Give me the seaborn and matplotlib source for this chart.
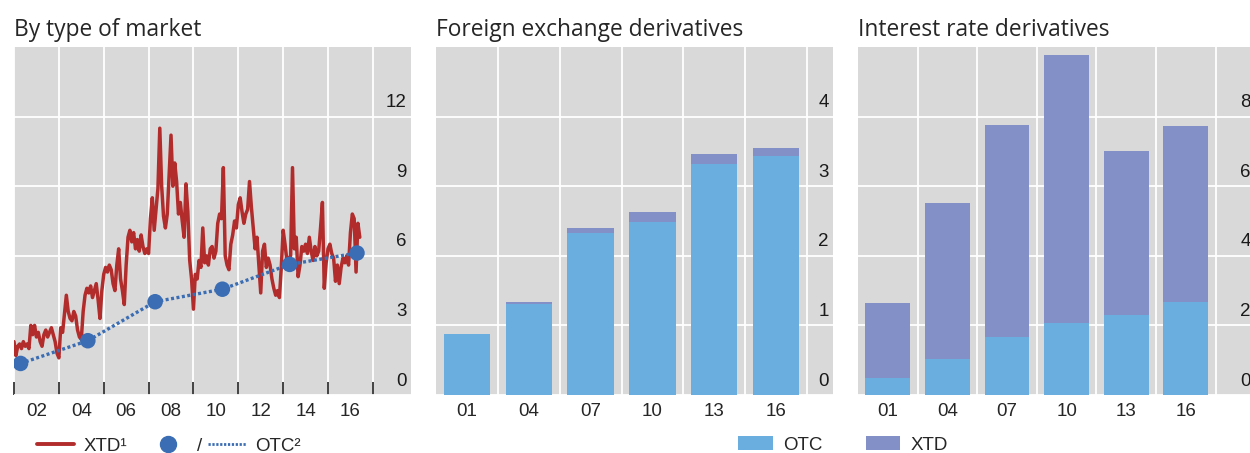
import numpy as np
import pandas as pd
import matplotlib
matplotlib.use("Agg")
import matplotlib.pyplot as plt
import seaborn as sns
from matplotlib.lines import Line2D
from matplotlib.patches import Patch

# ---------------- data ----------------
# Exchange-traded (XTD) turnover, monthly, Jan 2001 - Jun 2016 (USD trn per day)
xtd_2001 = [2.3, 1.7, 2.1, 2.2, 2.0, 2.3, 2.1, 2.2, 2.0, 3.0, 2.6, 3.0]
xtd_2002 = [2.5, 2.7, 2.3, 2.1, 2.6, 2.8, 2.5, 2.7, 2.9, 2.6, 2.3, 1.8]
xtd_2003 = [1.6, 2.9, 2.7, 3.5, 4.3, 3.6, 3.3, 3.2, 3.6, 3.4, 2.8, 2.5]
xtd_2004 = [2.4, 3.6, 4.3, 4.6, 4.4, 4.7, 4.2, 4.5, 4.8, 4.1, 3.3, 4.5]
xtd_2005 = [5.2, 5.5, 5.3, 5.6, 5.4, 4.8, 4.5, 5.6, 6.3, 5.0, 4.5, 3.9]
xtd_2006 = [5.6, 6.8, 7.1, 6.6, 7.0, 6.3, 6.7, 6.2, 6.9, 6.4, 6.1, 6.3]
xtd_2007 = [6.1, 7.6, 8.5, 7.1, 8.0, 8.9, 11.5, 9.0, 7.7, 7.2, 7.8, 9.5]
xtd_2008 = [11.2, 9.0, 10.0, 9.2, 7.8, 8.3, 7.5, 6.8, 9.1, 7.9, 5.8, 5.0]
xtd_2009 = [3.7, 5.2, 5.0, 5.8, 5.5, 7.2, 5.7, 6.0, 5.6, 6.3, 6.4, 5.9]
xtd_2010 = [6.2, 7.4, 7.8, 7.6, 9.8, 6.0, 5.6, 5.4, 6.5, 6.9, 7.5, 7.2]
xtd_2011 = [8.2, 8.5, 7.9, 7.4, 7.8, 8.0, 9.2, 8.1, 7.2, 6.3, 6.8, 5.6]
xtd_2012 = [4.4, 6.2, 6.5, 5.5, 5.9, 5.6, 5.0, 4.6, 4.3, 4.5, 4.2, 5.5]
xtd_2013 = [7.1, 6.5, 5.8, 5.9, 6.0, 9.8, 6.3, 6.8, 5.1, 5.6, 6.4, 6.2]
xtd_2014 = [6.5, 6.1, 6.8, 6.2, 5.8, 6.4, 6.0, 6.2, 7.2, 8.3, 4.6, 5.7]
xtd_2015 = [6.3, 6.5, 6.1, 5.9, 4.9, 5.6, 4.8, 5.5, 5.9, 5.7, 6.0, 5.6]
xtd_2016 = [7.0, 7.8, 7.6, 5.3, 7.4, 6.8]
xtd_monthly = (xtd_2001 + xtd_2002 + xtd_2003 + xtd_2004 + xtd_2005 + xtd_2006
               + xtd_2007 + xtd_2008 + xtd_2009 + xtd_2010 + xtd_2011 + xtd_2012
               + xtd_2013 + xtd_2014 + xtd_2015 + xtd_2016)
start_year = 2001

# Triennial survey (April) - OTC turnover
survey_years = [2001, 2004, 2007, 2010, 2013, 2016]
survey_month = 4
survey_labels = ["01", "04", "07", "10", "13", "16"]
otc_total = [1.36, 2.34, 4.02, 4.56, 5.63, 6.12]

fx_otc = [0.87, 1.31, 2.33, 2.49, 3.32, 3.44]
fx_xtd = [0.005, 0.02, 0.07, 0.14, 0.14, 0.11]
ir_otc = [0.49, 1.03, 1.68, 2.06, 2.31, 2.66]
ir_xtd = [2.15, 4.50, 6.08, 7.70, 4.70, 5.08]

left_xlabels = ["02", "04", "06", "08", "10", "12", "14", "16"]
left_yticks = [0, 3, 6, 9, 12]
fx_yticks = [0, 1, 2, 3, 4]
ir_yticks = [0, 2, 4, 6, 8]

# ---------------- style ----------------
RED = "#b22c2c"
BLUE = "#3a6db3"
OTC_C = "#6aaee0"
XTD_C = "#8290c7"
BG = "#d9d9d9"

sns.set_style("darkgrid", {"axes.facecolor": BG, "grid.color": "white",
                           "axes.edgecolor": BG})
plt.rcParams["font.family"] = ["Liberation Sans", "DejaVu Sans"]
plt.rcParams["grid.linewidth"] = 1.3
TITLE_FONT = ["Open Sans", "DejaVu Sans"]
FS = 13.5
TFS = 16.4

fig = plt.figure(figsize=(12.5, 4.53), dpi=100)
W, H = 1250, 453


def px_axes(x0, x1, y0, y1):
    return fig.add_axes([x0 / W, 1 - y1 / H, (x1 - x0) / W, (y1 - y0) / H])


ax1 = px_axes(14, 411, 47, 395)
ax2 = px_axes(436, 833, 47, 395)
ax3 = px_axes(858, 1255, 47, 395)


def right_inside_labels(ax, ticks):
    ax.set_yticks(ticks)
    ax.set_yticklabels([])
    ax.tick_params(axis="y", length=0)
    for v in ticks:
        ax.annotate(str(v), xy=(1, v), xycoords=("axes fraction", "data"),
                    xytext=(-3, 10), textcoords="offset points",
                    ha="right", va="center", fontsize=FS, color="#1a1a1a",
                    annotation_clip=False)


# ---------------- panel 1 ----------------
df_line = pd.DataFrame({
    "x": [start_year + i / 12 for i in range(len(xtd_monthly))],
    "v": xtd_monthly,
})
df_otc = pd.DataFrame({
    "x": [y + (survey_month - 0.5) / 12 for y in survey_years],
    "v": otc_total,
})
sns.lineplot(data=df_line, x="x", y="v", ax=ax1, color=RED, lw=2.5)
sns.lineplot(data=df_otc, x="x", y="v", ax=ax1, color=BLUE, lw=2.4,
             linestyle=(0, (0.9, 0.75)))
sns.scatterplot(data=df_otc, x="x", y="v", ax=ax1, color=BLUE, s=125,
                edgecolor="none", zorder=5)
ax1.set_xlim(2001, 2018.7)
ax1.set_ylim(0, 15)
ax1.set_xticks(list(range(2001, 2018, 2)))
ax1.set_xticklabels([])
ax1.set_xticks(list(range(2002, 2017, 2)), minor=True)
ax1.set_xticklabels(left_xlabels, minor=True)
ax1.tick_params(axis="x", which="major", direction="in", length=9.5,
                width=1.1, color="#111111", bottom=True)
ax1.tick_params(axis="x", which="minor", length=0, pad=6, labelsize=FS)
ax1.xaxis.grid(True, which="major")
ax1.xaxis.grid(False, which="minor")
right_inside_labels(ax1, left_yticks)
ax1.set_title("By type of market", loc="left", fontsize=TFS, pad=8,
              family=TITLE_FONT)


# ---------------- bar panels ----------------
def bar_panel(ax, otc, xtd, yticks, ylim, xmax, title):
    df = pd.DataFrame({"lab": survey_labels, "otc": otc,
                       "total": [a + b for a, b in zip(otc, xtd)]})
    sns.barplot(data=df, x="lab", y="total", ax=ax, color=XTD_C,
                saturation=1, width=0.75, linewidth=0)
    sns.barplot(data=df, x="lab", y="otc", ax=ax, color=OTC_C,
                saturation=1, width=0.75, linewidth=0)
    ax.set_xlim(-0.5, xmax)
    ax.set_ylim(*ylim)
    n = len(survey_labels)
    ax.set_xticks([i + 0.5 for i in range(n)])
    ax.set_xticklabels([])
    ax.set_xticks(list(range(n)), minor=True)
    ax.set_xticklabels(survey_labels, minor=True)
    ax.tick_params(axis="x", which="both", length=0)
    ax.tick_params(axis="x", which="minor", pad=6, labelsize=FS)
    ax.xaxis.grid(True, which="major")
    ax.xaxis.grid(False, which="minor")
    ax.set_xlabel("")
    ax.set_ylabel("")
    right_inside_labels(ax, yticks)
    ax.set_title(title, loc="left", fontsize=TFS, pad=8, family=TITLE_FONT)


bar_panel(ax2, fx_otc, fx_xtd, fx_yticks, (0, 5), 5.92,
          "Foreign exchange derivatives")
bar_panel(ax3, ir_otc, ir_xtd, ir_yticks, (0, 10), 6.16,
          "Interest rate derivatives")

for ax in (ax1, ax2, ax3):
    ax.set_xlabel("")
    ax.set_ylabel("")
    for s in ax.spines.values():
        s.set_visible(False)
    ax.set_axisbelow(True)

# ---------------- legends ----------------
leg_kw = dict(loc="center left", frameon=False, fontsize=FS, borderpad=0,
              borderaxespad=0)
h_a = [Line2D([], [], color=RED, lw=2.8),
       Line2D([], [], color=BLUE, marker="o", ls="none", ms=11.5)]
fig.legend(h_a, ["XTD¹", "/"], bbox_to_anchor=(37 / W, 1 - 446 / H), ncol=2,
           handlelength=1.95, handletextpad=0.55, columnspacing=1.2, **leg_kw)
h_b = [Line2D([], [], color=BLUE, lw=2.0, linestyle=(0, (0.8, 0.6)))]
fig.legend(h_b, ["OTC²"], bbox_to_anchor=(208 / W, 1 - 446 / H),
           handlelength=2.05, handletextpad=0.45, **leg_kw)

h_right = [Patch(facecolor=OTC_C, edgecolor="none"),
           Patch(facecolor=XTD_C, edgecolor="none")]
fig.legend(h_right, ["OTC", "XTD"], bbox_to_anchor=(738 / W, 1 - 445 / H),
           ncol=2, handlelength=1.85, handleheight=0.78, handletextpad=0.55,
           columnspacing=2.3, **leg_kw)

fig.savefig("out.png", dpi=100, facecolor="white")
